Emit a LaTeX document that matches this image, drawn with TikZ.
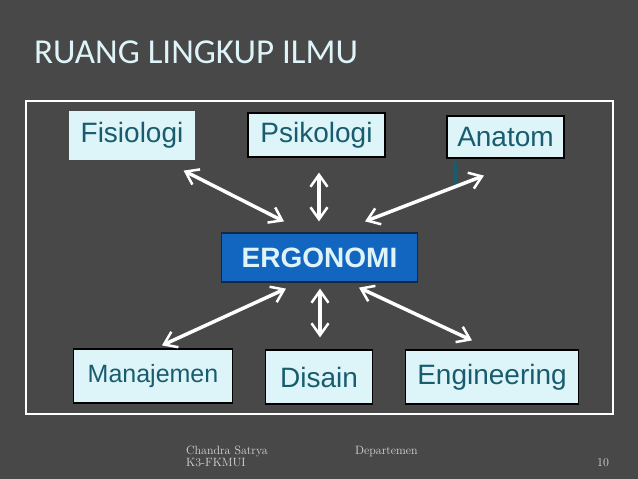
\documentclass[tikz,border=0pt]{standalone}
\usepackage{fontspec}
\usepackage{tikz}
\usetikzlibrary{arrows.meta, calc}
\newfontfamily\titlefont{Carlito}
\newfontfamily\boxfont{Liberation Sans}
\definecolor{slidebg}{RGB}{72, 72, 72}
\definecolor{titletext}{RGB}{222, 244, 248}
\definecolor{boxfill}{RGB}{221, 245, 249}
\definecolor{boxtext}{RGB}{24, 92, 110}
\definecolor{ergofill}{RGB}{18, 102, 192}
\definecolor{ergoedge}{RGB}{20, 40, 70}
\definecolor{foottext}{RGB}{214, 214, 214}

\begin{document}
\begin{tikzpicture}[x=1pt, y=-1pt,
  field/.style={fill=boxfill, draw=black, line width=1.2pt, text=boxtext,
    inner sep=0pt, font=\boxfont\fontsize{28}{30}\selectfont},
  link/.style={white, line width=3.5pt,
    {Straight Barb[length=12pt,width=17pt,line width=2.5pt]}-{Straight Barb[length=12pt,width=17pt,line width=2.5pt]}},
  foot/.style={text=foottext, inner sep=0pt, font=\fontsize{12}{13}\selectfont}]

  % Slide background
  \fill[slidebg] (0, 0) rectangle (638, 479);
  \useasboundingbox (0, 0) rectangle (638, 479);

  % Title
  \node[anchor=base west, inner sep=0pt, text=titletext,
    font=\titlefont\fontsize{35}{37}\selectfont] (title) at (34, 63) {RUANG LINGKUP ILMU};

  % Frame
  \draw[white, line width=1.2pt] (26, 101) rectangle (613, 414);

  % Upper row
  \node[field, draw=boxfill, minimum width=124, minimum height=47] (fis) at (132, 135.5) {Fisiologi};
  \node[field, minimum width=137, minimum height=44] (psi) at (316.5, 135) {Psikologi};
  \node[field, minimum width=117, minimum height=42] (ana) at (505.5, 137) {Anatom};
  \fill[boxtext] ($(ana.south west)+(7, 3)$) rectangle ++(3.5, 24);

  % Centre
  \node[field, fill=ergofill, draw=ergoedge, text=titletext, minimum width=196, minimum height=49,
    font=\boxfont\bfseries\fontsize{28}{30}\selectfont] (ergo) at (319.5, 257.5) {ERGONOMI};

  % Lower row
  \node[field, minimum width=159, minimum height=54,
    font=\boxfont\fontsize{25}{27}\selectfont] (man) at (153, 376) {Manajemen};
  \node[field, minimum width=107, minimum height=54] (dis) at (319, 377) {Disain};
  \node[field, minimum width=173, minimum height=54] (eng) at (492, 377) {Engineering};

  % Links to the upper row
  \draw[link] ($(fis.south east)+(-11, 11)$) -- ($(ergo.north)+(-35.5, -11)$);
  \draw[link] ($(psi.south)+(2.5, 15)$) -- ($(ergo.north)+(-0.5, -11)$);
  \draw[link] ($(ana.south)+(-21.5, 17)$) -- ($(ergo.north)+(45.5, -11)$);

  % Links to the lower row
  \draw[link] ($(ergo.south)+(-33.5, 6)$) -- ($(man.north)+(9, -3)$);
  \draw[link] ($(ergo.south)+(0.5, 6)$) -- ($(dis.north)+(1, -12)$);
  \draw[link] ($(ergo.south)+(39.5, 5)$) -- ($(eng.north)+(-20, -9)$);

  % Footer
  \node[foot, anchor=base west] (author) at (186, 454) {Chandra Satrya};
  \node[foot, anchor=base west] (unit) at (186, 466) {K3-FKMUI};
  \node[foot, anchor=base west] (dept) at (355, 454) {Departemen};
  \node[foot, anchor=base west] (page) at (597, 466) {10};

\end{tikzpicture}
\end{document}
